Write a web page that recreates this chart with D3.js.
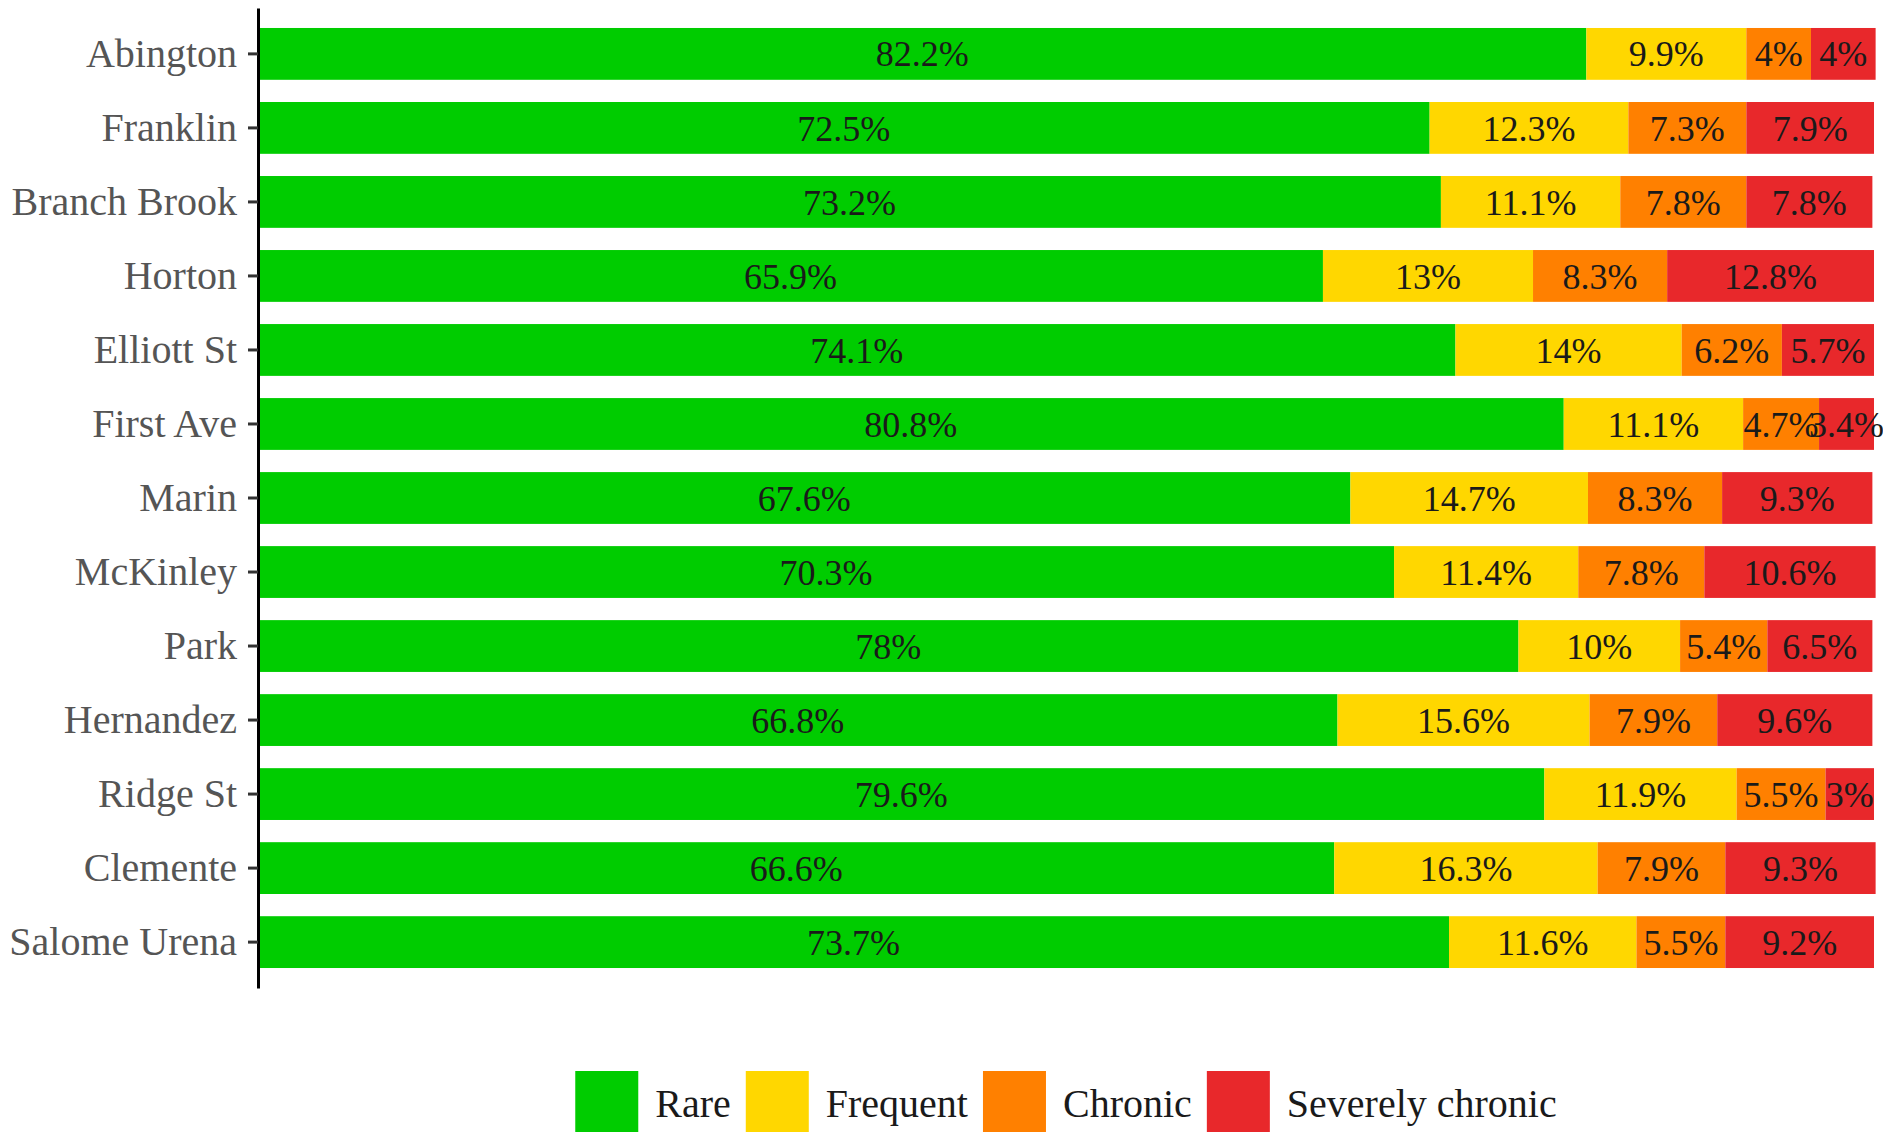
<!DOCTYPE html>
<html>
<head>
<meta charset="utf-8">
<script src="https://cdn.jsdelivr.net/npm/d3@7"></script>
<style>
  html, body { margin: 0; padding: 0; background: #ffffff; }
  svg { display: block; }
  text { font-family: "Liberation Serif", "Times New Roman", serif; }
</style>
</head>
<body>
<svg id="chart" width="1883" height="1132"></svg>
<script>
// ---- Data ----
const schools = ["Abington", "Franklin", "Branch Brook", "Horton", "Elliott St", "First Ave",
  "Marin", "McKinley", "Park", "Hernandez", "Ridge St", "Clemente", "Salome Urena"];
const seriesNames = ["Rare", "Frequent", "Chronic", "Severely chronic"];
const rare      = [82.2, 72.5, 73.2, 65.9, 74.1, 80.8, 67.6, 70.3, 78.0, 66.8, 79.6, 66.6, 73.7];
const frequent  = [ 9.9, 12.3, 11.1, 13.0, 14.0, 11.1, 14.7, 11.4, 10.0, 15.6, 11.9, 16.3, 11.6];
const chronic   = [ 4.0,  7.3,  7.8,  8.3,  6.2,  4.7,  8.3,  7.8,  5.4,  7.9,  5.5,  7.9,  5.5];
const severe    = [ 4.0,  7.9,  7.8, 12.8,  5.7,  3.4,  9.3, 10.6,  6.5,  9.6,  3.0,  9.3,  9.2];
const colors = ["#00cc00", "#ffd700", "#ff8000", "#e8282b"];

// ---- Build table ----
const table = schools.map((s, i) => ({
  school: s,
  "Rare": rare[i], "Frequent": frequent[i], "Chronic": chronic[i], "Severely chronic": severe[i]
}));
const stacked = d3.stack().keys(seriesNames)(table);

const svg = d3.select("#chart");

const x = d3.scaleLinear().domain([0, 100]).range([258, 1874]);
const y = d3.scaleBand().domain(schools).range([8, 988]).paddingInner(0.3).paddingOuter(0.27);
const color = d3.scaleOrdinal().domain(seriesNames).range(colors);

// bars
const layers = svg.append("g").selectAll("g").data(stacked).join("g")
  .attr("fill", d => color(d.key));
layers.selectAll("rect").data(d => d).join("rect")
  .attr("x", d => x(d[0]))
  .attr("y", d => y(d.data.school))
  .attr("width", d => x(d[1]) - x(d[0]))
  .attr("height", y.bandwidth());

// value labels
const lab = svg.append("g");
stacked.forEach(layer => {
  lab.selectAll(null).data(layer).join("text")
    .attr("x", d => (x(d[0]) + x(d[1])) / 2)
    .attr("y", d => y(d.data.school) + y.bandwidth() / 2)
    .attr("dy", "0.35em")
    .attr("text-anchor", "middle")
    .attr("font-size", 36)
    .attr("fill", "#1a1a1a")
    .text(d => d3.format(".3~")(d[1] - d[0]) .replace(/\.0$/, "") + "%");
});

// y axis
const yAxis = svg.append("g")
  .attr("transform", `translate(${x(0)},0)`)
  .call(d3.axisLeft(y).tickSize(10).tickSizeOuter(0).tickPadding(11));
yAxis.select(".domain").attr("stroke", "#000").attr("stroke-width", 3);
yAxis.selectAll(".tick line").attr("stroke", "#333").attr("stroke-width", 3);
yAxis.selectAll(".tick text")
  .attr("font-family", "Liberation Serif, serif")
  .attr("font-size", 40)
  .attr("fill", "#555555");

// legend
const legend = svg.append("g");
const items = legend.selectAll("g").data(seriesNames).join("g");
const sw = 63, gapText = 17, gapItem = 15;
items.append("rect").attr("width", sw).attr("height", sw).attr("y", 1071)
  .attr("fill", d => color(d));
items.append("text").text(d => d)
  .attr("y", 1071 + sw / 2).attr("dy", "0.35em")
  .attr("font-size", 40).attr("fill", "#1a1a1a");
let cx = 0;
const widths = [];
items.each(function () {
  const tw = d3.select(this).select("text").node().getComputedTextLength();
  widths.push(tw);
});
const total = d3.sum(widths) + seriesNames.length * (sw + gapText) + (seriesNames.length - 1) * gapItem;
let start = (x(0) + x(100)) / 2 - total / 2;
items.each(function (d, i) {
  const g = d3.select(this);
  g.select("rect").attr("x", start);
  g.select("text").attr("x", start + sw + gapText);
  start += sw + gapText + widths[i] + gapItem;
});
</script>
</body>
</html>
